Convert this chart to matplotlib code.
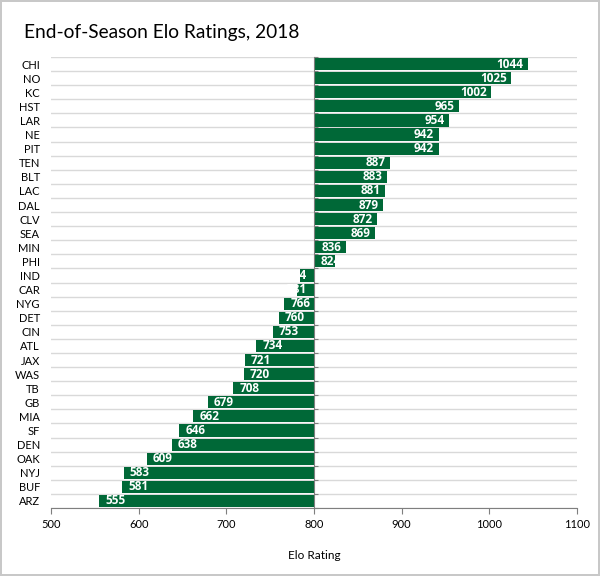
import matplotlib
matplotlib.use('Agg')
import matplotlib.pyplot as plt

plt.rcParams['font.family'] = ['Lato', 'DejaVu Sans']

teams = ['CHI', 'NO', 'KC', 'HST', 'LAR', 'NE', 'PIT', 'TEN', 'BLT', 'LAC', 'DAL',
         'CLV', 'SEA', 'MIN', 'PHI', 'IND', 'CAR', 'NYG', 'DET', 'CIN', 'ATL', 'JAX',
         'WAS', 'TB', 'GB', 'MIA', 'SF', 'DEN', 'OAK', 'NYJ', 'BUF', 'ARZ']
elo = [1044, 1025, 1002, 965, 954, 942, 942, 887, 883, 881, 879,
       872, 869, 836, 824, 784, 781, 766, 760, 753, 734, 721,
       720, 708, 679, 662, 646, 638, 609, 583, 581, 555]
base = 800
green = '#006837'

fig = plt.figure(figsize=(6, 5.76), dpi=100)
fig.patch.set_edgecolor('#c8c8c8')
fig.patch.set_linewidth(1.5)
ax = fig.add_axes([0.085, 0.118, 0.8767, 0.783])

ypos = list(range(len(teams)))
diffs = [v - base for v in elo]
bars = ax.barh(ypos, diffs, left=base, height=0.86, color=green, zorder=2)

# value labels inside the bar end; short bars get the label from the base side, clipped
for bar, v, y in zip(bars, elo, ypos):
    short = abs(v - base) < 30
    if v >= base:
        if short:
            x, ha = base + 8, 'left'
        else:
            x, ha = v - 5, 'right'
    else:
        if short:
            x, ha = base - 8, 'right'
        else:
            x, ha = v + 7, 'left'
    t = ax.text(x, y, str(v), ha=ha, va='center', color='white',
                fontsize=8.5, fontweight='bold', family=['Open Sans', 'DejaVu Sans'],
                zorder=3)
    t.set_clip_path(bar)

# row separators
for i in range(len(teams) + 1):
    ax.axhline(i - 0.5, color='#d9d9d9', lw=1, zorder=1)

ax.set_xlim(500, 1100)
ax.set_ylim(len(teams) - 0.5, -0.5)
ax.set_xticks([500, 600, 700, 800, 900, 1000, 1100])
ax.set_yticks(ypos)
ax.set_yticklabels(teams)
ax.tick_params(axis='y', length=0, labelsize=8, pad=8)
ax.tick_params(axis='x', length=4, color='#7f7f7f', labelsize=8, pad=4)
for s in ['top', 'right', 'left']:
    ax.spines[s].set_visible(False)
ax.spines['bottom'].set_color('#7f7f7f')
ax.set_xlabel('Elo Rating', fontsize=8.5, labelpad=14)

# category axis line at 800 with small ticks between rows
ax2 = ax.twinx()
ax2.set_ylim(ax.get_ylim())
for s in ['top', 'left', 'bottom']:
    ax2.spines[s].set_visible(False)
ax2.spines['right'].set_position(('data', base))
ax2.spines['right'].set_color('#7f7f7f')
ax2.spines['right'].set_zorder(4)
ax2.set_yticks([i - 0.5 for i in range(len(teams) + 1)])
ax2.tick_params(axis='y', length=3, color='#7f7f7f', labelright=False)

fig.text(0.04, 0.943, 'End-of-Season Elo Ratings, 2018', fontsize=13.8,
         ha='left', va='center')

fig.savefig('out.png', dpi=100, edgecolor=fig.get_edgecolor())
